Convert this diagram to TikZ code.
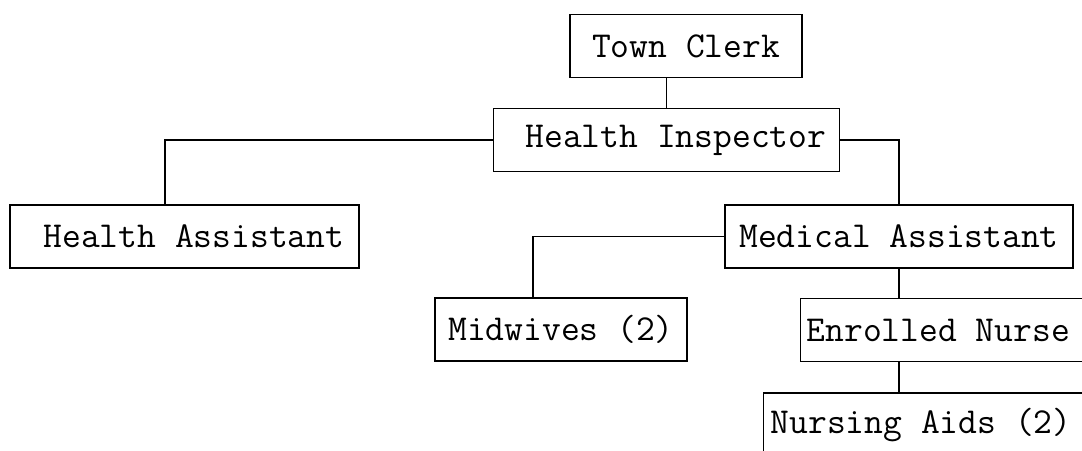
\documentclass[tikz,border=0pt]{standalone}
\usepackage{fontspec}
\usepackage{tikz}

\tikzset{
  post/.style={draw, line width=1.4pt, minimum height=63pt, inner sep=0pt,
    font=\ttfamily\fontsize{36.5}{40}\selectfont},
  cutpost/.style={post, anchor=west},
  link/.style={draw, line width=1.3pt}
}
\newcommand{\cuttext}[1]{\makebox[330pt][l]{#1}}

\begin{document}
\begin{tikzpicture}[x=1pt,y=-1pt]
   \clip (0,0) rectangle (1082,450);

   \node[post, minimum width=232pt] (clerk)     at (686,46)    {Town Clerk};
   \node[post, minimum width=346pt] (inspector) at (666.5,140) {~Health Inspector};
   \node[post, minimum width=349pt] (assistant) at (184.5,236.5) {~Health Assistant};
   \node[post, minimum width=348pt] (medical)   at (899,236.5) {Medical Assistant};
   \node[post, minimum width=252pt] (midwives)  at (561,329.5) {Midwives (2)};
   \node[cutpost, inner xsep=6pt] (enrolled) at (800,330) {\cuttext{Enrolled Nurse}};
   \node[cutpost, inner xsep=7pt, minimum height=64pt] (aids) at (763,425) {\cuttext{Nursing Aids (2)}};

   \path[link] (inspector.north) -- (inspector.north |- clerk.south)
               (inspector.west) -| ([xshift=-19.5pt]assistant.north)
               (inspector.east) -| (medical.north)
               (medical.west) -| ([xshift=-28pt]midwives.north)
               (medical.south) -- (medical.south |- enrolled.north)
               (enrolled.south -| medical.south) -- (aids.north -| medical.south);

\end{tikzpicture}
\end{document}
